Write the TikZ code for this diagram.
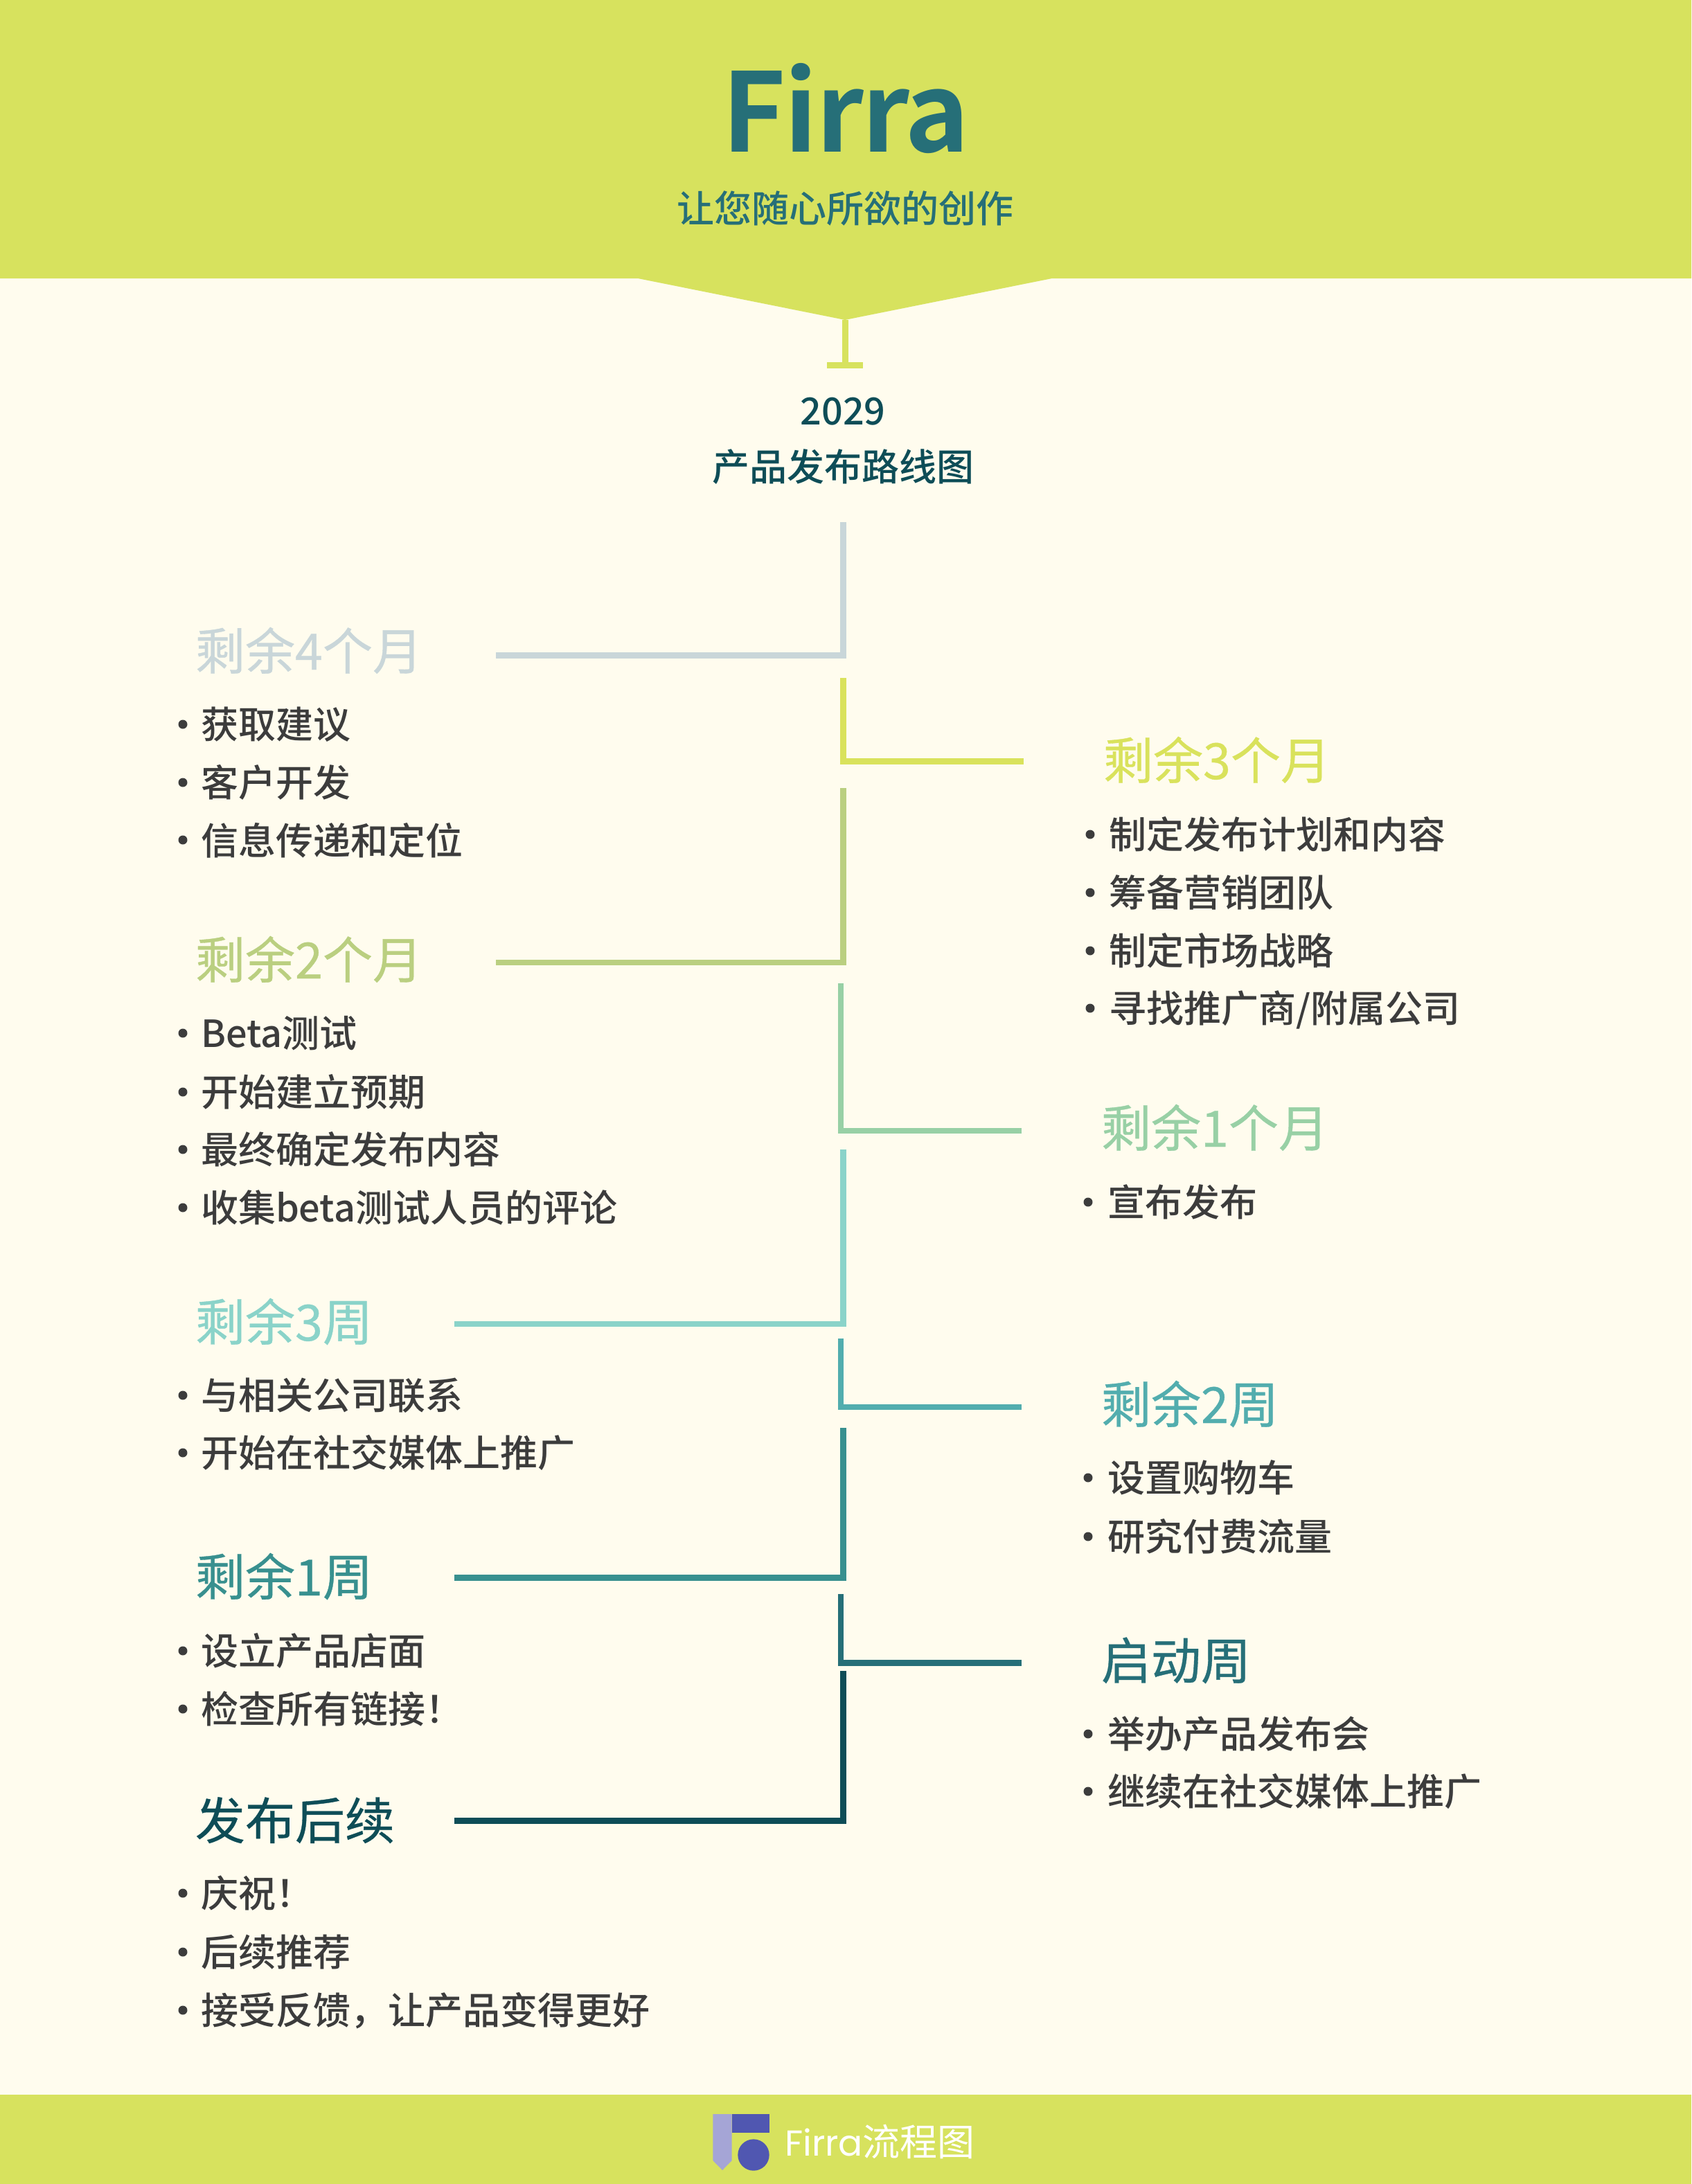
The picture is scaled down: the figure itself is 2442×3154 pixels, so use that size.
\documentclass[tikz,border=0pt]{standalone}
\usepackage{fontspec}
\setmainfont{Noto Sans CJK SC Medium}
\newfontfamily\titlefont[LetterSpace=-1.4]{Noto Sans CJK SC Bold}
\newfontfamily\headfont[FakeBold=0.5]{Noto Sans CJK SC}
\newfontfamily\regfont{Noto Sans CJK SC}
\newfontfamily\logofont{Poppins}
\definecolor{bgcream}{HTML}{FFFCEE}
\definecolor{lime}{HTML}{D7E25E}
\definecolor{teal}{HTML}{266F78}
\definecolor{deep}{HTML}{0E4D57}
\definecolor{body}{HTML}{3C3C3C}
\definecolor{cA}{HTML}{C9D6D9}
\definecolor{cB}{HTML}{D9E25C}
\definecolor{cC}{HTML}{BACF80}
\definecolor{cD}{HTML}{98D0A5}
\definecolor{cE}{HTML}{8AD3C9}
\definecolor{cF}{HTML}{52ADAE}
\definecolor{cG}{HTML}{38908F}
\definecolor{cH}{HTML}{266F78}
\definecolor{cI}{HTML}{0E4D57}
\definecolor{logoL}{HTML}{A5A5D6}
\definecolor{logoD}{HTML}{5057B1}
\tikzset{
  x=1pt,y=-1pt,
  txt/.style={inner sep=0pt,outer sep=0pt,anchor=base west},
  head/.style={txt,font=\headfont\fontsize{72}{80}\selectfont},
  itm/.style={txt,text=body,font=\fontsize{54}{60}\selectfont},
  bul/.style={circle,fill=body,inner sep=0pt,minimum size=13pt},
  link/.style={line width=8.8pt,line join=miter,line cap=butt},
}
\begin{document}
\begin{tikzpicture}
\useasboundingbox (0,0) rectangle (2442,3154);
\fill[bgcream] (0,0) rectangle (2442,3154);
% banner
\coordinate (tip) at (1220,462);
\fill[lime] (0,0) -- (2442,0) -- (2442,402) -- (1519,402) -- (tip) -- (921,402) -- (0,402) -- cycle;
\fill[lime] (0,3025) rectangle (2442,3154);
\node[txt,anchor=base,text=teal,font=\titlefont\fontsize{158}{170}\selectfont] (title) at (1221,219) {Firra};
\node[txt,anchor=base,text=teal,font=\fontsize{54}{60}\selectfont] (sub) at (1220,321) {让您随心所欲的创作};
\coordinate (tbar) at (1220,527.5);
\coordinate (tbl) at (1194,527.5);
\coordinate (tbr) at (1245.5,527.5);
\draw[lime,line width=9pt] (tip) -- (tbar);
\draw[lime,line width=8.5pt] (tbl) -- (tbr);
\node[txt,anchor=base,text=deep,font=\fontsize{54}{60}\selectfont] (yr) at (1217,613) {2029};
\node[txt,anchor=base,text=deep,font=\fontsize{54}{60}\selectfont] (rm) at (1217,694) {产品发布路线图};
% connectors
\coordinate (a1) at (1217.1,754);   \coordinate (a2) at (716,946.1);
\coordinate (b1) at (1217.1,979);   \coordinate (b2) at (1478,1099.2);
\coordinate (c1) at (1217.1,1138);  \coordinate (c2) at (716,1389.9);
\coordinate (d1) at (1214,1420);    \coordinate (d2) at (1475,1632.9);
\coordinate (e1) at (1217.1,1660.4);\coordinate (e2) at (656,1911.9);
\coordinate (f1) at (1214,1932.7);  \coordinate (f2) at (1475,2032);
\coordinate (g1) at (1217.1,2062);  \coordinate (g2) at (656,2278.3);
\coordinate (h1) at (1214,2302);    \coordinate (h2) at (1475,2401.2);
\coordinate (i1) at (1217.1,2413.3);\coordinate (i2) at (656,2629.4);
\draw[link,cA] (a1) |- (a2);
\draw[link,cB] (b1) |- (b2);
\draw[link,cC] (c1) |- (c2);
\draw[link,cD] (d1) |- (d2);
\draw[link,cE] (e1) |- (e2);
\draw[link,cF] (f1) |- (f2);
\draw[link,cG] (g1) |- (g2);
\draw[link,cH] (h1) |- (h2);
\draw[link,cI] (i1) |- (i2);
% left column
\node[head,text=cA] (ha) at (282,967) {剩余4个月};
\node[bul] (ba1) at (264,1046) {}; \node[itm] (ta1) at (290,1066) {获取建议};
\node[bul] (ba2) at (264,1130) {}; \node[itm] (ta2) at (290,1150) {客户开发};
\node[bul] (ba3) at (264,1213) {}; \node[itm] (ta3) at (290,1234) {信息传递和定位};
\node[head,text=cC] (hc) at (282,1413) {剩余2个月};
\node[bul] (bc1) at (264,1492) {}; \node[itm] (tc1) at (290,1512) {Beta测试};
\node[bul] (bc2) at (264,1577) {}; \node[itm] (tc2) at (290,1597) {开始建立预期};
\node[bul] (bc3) at (264,1660) {}; \node[itm] (tc3) at (290,1680) {最终确定发布内容};
\node[bul] (bc4) at (264,1744) {}; \node[itm] (tc4) at (290,1764) {收集beta测试人员的评论};
\node[head,text=cE] (he) at (282,1936) {剩余3周};
\node[bul] (be1) at (264,2015) {}; \node[itm] (te1) at (290,2035) {与相关公司联系};
\node[bul] (be2) at (264,2098) {}; \node[itm] (te2) at (290,2118) {开始在社交媒体上推广};
\node[head,text=cG] (hg) at (282,2304) {剩余1周};
\node[bul] (bg1) at (264,2384) {}; \node[itm] (tg1) at (290,2404) {设立产品店面};
\node[bul] (bg2) at (264,2468) {}; \node[itm] (tg2) at (290,2488) {检查所有链接！};
\node[head,text=cI] (hi) at (282,2656) {发布后续};
\node[bul] (bi1) at (264,2734) {}; \node[itm] (ti1) at (290,2754) {庆祝！};
\node[bul] (bi2) at (264,2819) {}; \node[itm] (ti2) at (290,2839) {后续推荐};
\node[bul] (bi3) at (264,2903) {}; \node[itm] (ti3) at (290,2923) {接受反馈，让产品变得更好};
% right column
\node[head,text=cB] (hb) at (1593,1125) {剩余3个月};
\node[bul] (bb1) at (1574,1205) {}; \node[itm] (tb1) at (1601,1225) {制定发布计划和内容};
\node[bul] (bb2) at (1574,1289) {}; \node[itm] (tb2) at (1601,1309) {筹备营销团队};
\node[bul] (bb3) at (1574,1373) {}; \node[itm] (tb3) at (1601,1393) {制定市场战略};
\node[bul] (bb4) at (1574,1456) {}; \node[itm] (tb4) at (1601,1476) {寻找推广商/附属公司};
\node[head,text=cD] (hd) at (1590,1656) {剩余1个月};
\node[bul] (bd1) at (1571,1736) {}; \node[itm] (td1) at (1599,1756) {宣布发布};
\node[head,text=cF] (hf) at (1590,2055) {剩余2周};
\node[bul] (bf1) at (1571,2134) {}; \node[itm] (tf1) at (1599,2154) {设置购物车};
\node[bul] (bf2) at (1571,2219) {}; \node[itm] (tf2) at (1599,2239) {研究付费流量};
\node[head,text=cH] (hh) at (1590,2425) {启动周};
\node[bul] (bh1) at (1571,2504) {}; \node[itm] (th1) at (1599,2524) {举办产品发布会};
\node[bul] (bh2) at (1571,2587) {}; \node[itm] (th2) at (1599,2607) {继续在社交媒体上推广};
% footer logo
\fill[logoL] (1029.3,3053) -- (1056.7,3053) -- (1056.7,3120) -- (1043,3134) -- (1029.3,3120) -- cycle;
\fill[logoD] (1056.7,3053) rectangle (1110.7,3080);
\fill[logoD] (1088,3112) circle[radius=22.7];
\node[txt,text=white,font=\fontsize{54}{60}\selectfont] (brand) at (1133,3113) {{\logofont\fontsize{52}{60}\selectfont Firra}{\regfont 流程图}};
\end{tikzpicture}
\end{document}
